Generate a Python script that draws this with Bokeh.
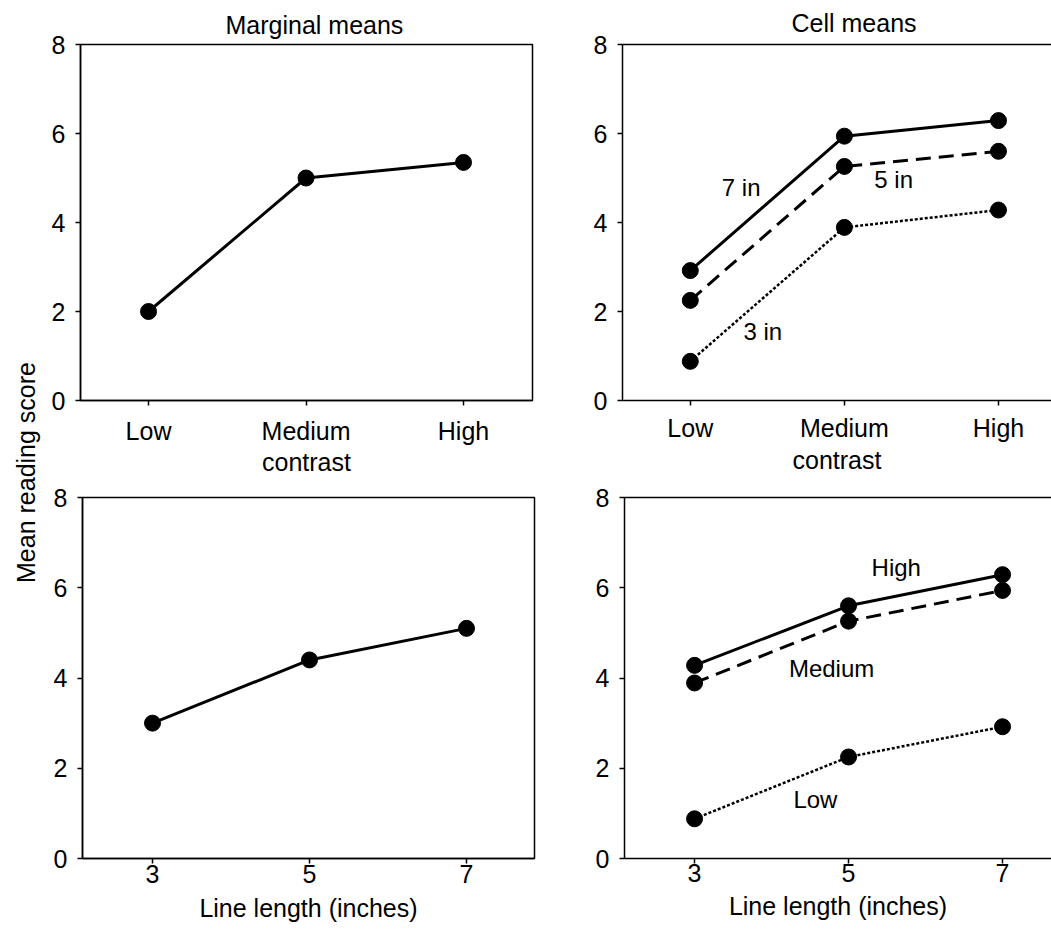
import math
from bokeh.plotting import figure
from bokeh.models import Range1d, FixedTicker, Label, LinearAxis
from bokeh.layouts import row, column
from bokeh.embed import file_html
from bokeh.resources import INLINE

FONT = "Liberation Sans"

# ---------------- data ----------------
contrast_levels = ["Low", "Medium", "High"]
contrast_pos = [0, 1, 2]
line_lengths = [3, 5, 7]
y_ticks = [0, 2, 4, 6, 8]

marginal_by_contrast = [2.0, 5.0, 5.35]
marginal_by_length = [3.0, 4.4, 5.1]

# cell means: one list per contrast level, values for 3, 5, 7 inch lines
cell_low = [0.88, 2.25, 2.92]
cell_medium = [3.89, 5.26, 5.94]
cell_high = [4.28, 5.60, 6.29]

length_names = ["3 in", "5 in", "7 in"]
contrast_names = ["Low", "Medium", "High"]

# label placements (data coords)
cell_contrast_labels = {"7 in": (0.33, 4.79), "5 in": (1.32, 4.97), "3 in": (0.47, 1.55)}
cell_length_labels = {"High": (5.62, 6.45), "Medium": (4.78, 4.2), "Low": (4.57, 1.3)}

dash_for = {"solid": "solid", "dashed": "15 8", "dotted": "3 2"}


def base(width, height, xr, mb, title=None, title_offset=0, title_standoff=12,
         title_valign="bottom", outline=True):
    p = figure(width=width, height=height, x_range=Range1d(*xr), y_range=Range1d(0, 8),
               output_backend="svg", toolbar_location=None, title=title,
               min_border_left=mb[0], min_border_right=mb[1],
               min_border_top=mb[2], min_border_bottom=mb[3])
    p.xgrid.visible = False
    p.ygrid.visible = False
    p.outline_line_color = "black" if outline else None
    p.outline_line_width = 1.5
    p.background_fill_color = "white"
    p.border_fill_color = "white"
    if title:
        p.title.align = "left"
        p.title.vertical_align = title_valign
        p.title.offset = title_offset
        p.title.standoff = title_standoff
        p.title.text_font = FONT
        p.title.text_font_size = "25px"
        p.title.text_font_style = "normal"
        p.title.text_color = "black"
    bottom = p.below[0]
    left = p.left[0]
    if not outline:
        top = LinearAxis(ticker=FixedTicker(ticks=[]), major_label_text_font_size="0px",
                         major_tick_line_color=None, minor_tick_line_color=None,
                         axis_line_width=1.5, axis_line_color="black",
                         major_tick_out=0, major_tick_in=0, major_label_standoff=0)
        p.add_layout(top, "above")
    for ax in (bottom, left):
        ax.axis_line_width = 1.5
        ax.axis_line_color = "black"
        ax.major_tick_line_width = 1.5
        ax.major_tick_line_color = "black"
        ax.major_tick_in = 0
        ax.major_tick_out = 5
        ax.minor_tick_line_color = None
        ax.major_label_text_font = FONT
        ax.major_label_text_font_size = "25px"
        ax.major_label_text_color = "black"
        ax.axis_label_text_font = FONT
        ax.axis_label_text_font_size = "25px"
        ax.axis_label_text_font_style = "normal"
        ax.axis_label_text_color = "black"
    left.ticker = FixedTicker(ticks=y_ticks)
    left.major_label_standoff = 10
    return p, bottom


def add_series(p, xs, ys, dash="solid", lw=3):
    p.line(xs, ys, line_color="black", line_width=lw, line_dash=dash_for[dash])
    p.scatter(xs, ys, size=16, fill_color="black", line_color="black", marker="circle")


def add_label(p, txt, xy, size="24px"):
    p.add_layout(Label(x=xy[0], y=xy[1], text=txt, text_align="center", text_baseline="middle",
                       text_font=FONT, text_font_size=size, text_color="black"))


rows_by_contrast = [cell_low, cell_medium, cell_high]

# ---------------- top-left: marginal means by contrast ----------------
p1, b1 = base(500, 478, (-0.432, 2.438), (32, 16, 44, 75),
              title="Marginal means", title_offset=145, title_standoff=12, title_valign="bottom")
b1.ticker = FixedTicker(ticks=contrast_pos)
b1.major_label_overrides = {i: s for i, s in zip(contrast_pos, contrast_levels)}
b1.axis_label = "contrast"
b1.major_label_standoff = 11
b1.axis_label_standoff = 0
add_series(p1, contrast_pos, marginal_by_contrast)

# ---------------- top-right: cell means by contrast ----------------
p2, b2 = base(503, 478, (-0.44, 2.344), (74, 0, 44, 75),
              title="Cell means", title_offset=169, title_standoff=12, title_valign="top",
              outline=False)
b2.ticker = FixedTicker(ticks=contrast_pos)
b2.major_label_overrides = {i: s for i, s in zip(contrast_pos, contrast_levels)}
b2.axis_label = "contrast"
b2.major_label_standoff = 8
b2.axis_label_standoff = 1
styles_len = ["dotted", "dashed", "solid"]
for j, name in enumerate(length_names):
    ys = [r[j] for r in rows_by_contrast]
    add_series(p2, contrast_pos, ys, dash=styles_len[j], lw=2.5 if styles_len[j] == "dotted" else 3)
for txt, xy in cell_contrast_labels.items():
    add_label(p2, txt, xy)

# ---------------- bottom-left: marginal means by line length ----------------
p3, b3 = base(500, 451, (2.108, 7.866), (34, 14, 19, 71))
b3.ticker = FixedTicker(ticks=line_lengths)
b3.axis_label = "Line length (inches)"
b3.major_label_standoff = 1
b3.axis_label_standoff = 8
add_series(p3, line_lengths, marginal_by_length)

# ---------------- bottom-right: cell means by line length ----------------
p4, b4 = base(503, 451, (2.09, 7.636), (76, 0, 19, 71), outline=False)
b4.ticker = FixedTicker(ticks=line_lengths)
b4.axis_label = "Line length (inches)"
b4.major_label_standoff = 0
b4.axis_label_standoff = 7
styles_con = {"Low": "dotted", "Medium": "dashed", "High": "solid"}
for name, vals in zip(contrast_names, rows_by_contrast):
    add_series(p4, line_lengths, vals, dash=styles_con[name], lw=2.5 if styles_con[name] == "dotted" else 3)
for txt, xy in cell_length_labels.items():
    add_label(p4, txt, xy)

# ---------------- shared y-axis label ----------------
pl = figure(width=48, height=929, x_range=Range1d(0, 48), y_range=Range1d(929, 0),
            output_backend="svg", toolbar_location=None, x_axis_type=None, y_axis_type=None,
            min_border=0)
pl.outline_line_color = None
pl.xgrid.visible = False
pl.ygrid.visible = False
pl.add_layout(Label(x=25, y=472, text="Mean reading score", angle=math.pi / 2,
                    text_align="center", text_baseline="middle",
                    text_font=FONT, text_font_size="25px", text_color="black"))

layout = row(pl, column(row(p1, p2), row(p3, p4)))
open("out.html", "w").write(file_html(layout, INLINE))
